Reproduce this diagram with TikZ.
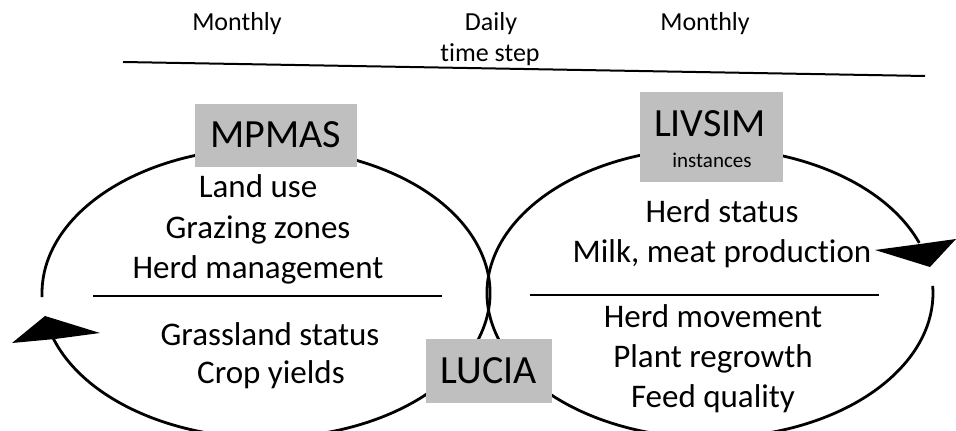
\documentclass[tikz,border=0pt]{standalone}
\usepackage{fontspec}
\setmainfont{Carlito}[Ligatures=NoCommon]
\definecolor{boxgray}{RGB}{191,191,191}
\begin{document}
\begin{tikzpicture}[x=1pt,y=1pt,
  ring/.style={line width=2.8pt},
  rulething/.style={line width=1.6pt},
  bodytext/.style={font=\fontsize{33}{40}\selectfont, anchor=base, inner sep=0pt},
  headtext/.style={font=\fontsize{26}{30}\selectfont, anchor=base, inner sep=0pt},
  smalltext/.style={font=\fontsize{21}{25}\selectfont, anchor=base, inner sep=0pt},
  boxlabel/.style={font=\fontsize{40}{48}\selectfont, anchor=base, inner sep=0pt},
  graybox/.style={fill=boxgray, draw=none, inner sep=0pt},
  arrowfill/.style={fill=black, draw=none}]
\useasboundingbox (0,0) rectangle (956,431);

% time line
\coordinate (tl1) at (123,369);
\coordinate (tl2) at (925,355);
\draw[line width=2pt] (tl1) -- (tl2);
\node[headtext] (mleft) at (237,400) {Monthly};
\node[headtext] (daily) at (491,400) {Daily};
\node[headtext] (tstep) at (490,369) {time step};
\node[headtext] (mright) at (705,400) {Monthly};

% cycles
\draw[ring] ([shift={(198:224pt and 145pt)}]266,138)
  arc[start angle=198, end angle=541.6, x radius=224pt, y radius=145pt];
\draw[ring] ([shift={(20.2:223pt and 145pt)}]710,138)
  arc[start angle=20.2, end angle=362.8, x radius=223pt, y radius=145pt];

% arrow heads
\fill[arrowfill] (12,88) -- (45,115) -- (100,98) -- (55,92) -- cycle;
\fill[arrowfill] (875,181) -- (920,187) -- (956,192) -- (930,164) -- cycle;

% dividers
\coordinate (dl1) at (93,135);
\coordinate (dl2) at (442,135);
\coordinate (dr1) at (530,136);
\coordinate (dr2) at (879,136);
\draw[rulething] (dl1) -- (dl2);
\draw[rulething] (dr1) -- (dr2);

% left texts
\node[bodytext] (landuse) at (258,233) {Land use};
\node[bodytext] (grazing) at (258,192) {Grazing zones};
\node[bodytext] (herdman) at (258,152) {Herd management};
\node[bodytext] (grass) at (270,85) {Grassland status};
\node[bodytext] (crop) at (271,47) {Crop yields};

% right texts
\node[bodytext] (herdstat) at (722,208) {Herd status};
\node[bodytext] (milk) at (722,168) {Milk, meat production};
\node[bodytext] (herdmov) at (713,103) {Herd movement};
\node[bodytext] (plant) at (713,63) {Plant regrowth};
\node[bodytext] (feed) at (713,23) {Feed quality};

% boxes
\node[graybox, minimum width=162pt, minimum height=63pt, text height=25pt, text depth=0pt,
  font=\fontsize{40}{48}\selectfont] (mpmas) at (276,295.5) {MPMAS};
\node[graybox, minimum width=126pt, minimum height=64pt, text height=25pt, text depth=0pt,
  font=\fontsize{40}{48}\selectfont] (lucia) at (489,60) {LUCIA};
\node[graybox, minimum width=143pt, minimum height=90pt] (livsimbox) at (711.5,294) {};
\node[boxlabel] (livsim) at (710,294) {LIVSIM};
\node[smalltext] (instances) at (712,263) {instances};
\end{tikzpicture}
\end{document}
